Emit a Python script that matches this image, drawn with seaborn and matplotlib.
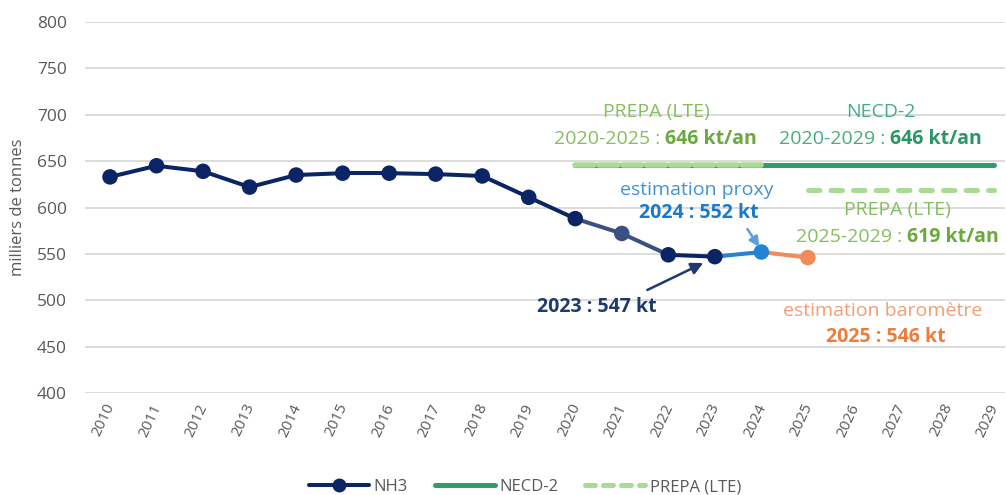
import matplotlib
matplotlib.use("Agg")
import matplotlib.pyplot as plt
import matplotlib.transforms as mtransforms
import seaborn as sns
import pandas as pd
import numpy as np
from matplotlib.lines import Line2D

# ---------------- data ----------------
years = list(range(2010, 2030))
nh3_years = list(range(2010, 2026))
nh3_values = [633, 645, 639, 622, 635, 637, 637, 636, 634, 611, 588, 572, 549, 547, 552, 546]
necd2_years = [2020, 2029]
necd2_values = [646, 646]
prepa1_years = [2020, 2024]
prepa1_values = [646, 646]
prepa2_years = [2025, 2029]
prepa2_values = [619, 619]
y_ticks = [400, 450, 500, 550, 600, 650, 700, 750, 800]

# ---------------- style ----------------
sns.set_theme(style="white")
plt.rcParams["font.family"] = ["Open Sans", "DejaVu Sans"]

NAVY = "#0a2466"
NAVY_LIGHT = "#3a5085"
BLUE = "#2483d2"
ORANGE = "#ef8c59"
NECD_GREEN = "#2e9e6b"
PREPA_GREEN = "#a8dc92"
GREY = "#595959"

W, H = 1006, 495
fig = plt.figure(figsize=(W / 100, H / 100), dpi=100)
ax = fig.add_axes([85 / W, (H - 393) / H, 920 / W, (393 - 22) / H])

# x: year, px mapping 2010 -> 110, 46.5 px per year
ax.set_xlim(2010 - 25 / 46.5, 2029 + 11 / 46.5)
ax.set_ylim(400, 800)

ax.set_yticks(y_ticks)
ax.yaxis.grid(True, color="#d9d9d9", linewidth=1.3)
ax.set_axisbelow(True)
for s in ax.spines.values():
    s.set_visible(False)

# target lines
ax.plot(necd2_years, necd2_values, color=NECD_GREEN, lw=3.6, solid_capstyle="round", zorder=2)
ax.plot(prepa1_years, prepa1_values, color=PREPA_GREEN, lw=4.0, dashes=(3.4, 0.9),
        dash_capstyle="round", zorder=3)
ax.plot(prepa2_years, prepa2_values, color=PREPA_GREEN, lw=3.6, dashes=(2.3, 2.2),
        dash_capstyle="round", zorder=3)

# NH3 series drawn by segments with seaborn
df = pd.DataFrame({"year": nh3_years, "value": nh3_values})
seg_colors = []
for i in range(len(nh3_years) - 1):
    y0 = nh3_years[i]
    if y0 in (2020, 2021):
        c = NAVY_LIGHT
    elif y0 == 2023:
        c = BLUE
    elif y0 == 2024:
        c = ORANGE
    else:
        c = NAVY
    seg_colors.append(c)

for i, c in enumerate(seg_colors):
    sub = df.iloc[i:i + 2]
    sns.lineplot(data=sub, x="year", y="value", color=c, lw=2.9, ax=ax, zorder=4,
                 legend=False)

pt_colors = []
for y in nh3_years:
    if y == 2021:
        pt_colors.append(NAVY_LIGHT)
    elif y == 2024:
        pt_colors.append(BLUE)
    elif y == 2025:
        pt_colors.append(ORANGE)
    else:
        pt_colors.append(NAVY)
sns.scatterplot(data=df, x="year", y="value", hue="year",
                palette=dict(zip(nh3_years, pt_colors)), s=125, edgecolor="none",
                ax=ax, zorder=5, legend=False)

ax.set_xlabel("")
ax.set_ylabel("milliers de tonnes", color=GREY, fontsize=12)
ax.yaxis.set_label_coords((26 - 85) / 920, 0.5)
ax.set_xticks(years)
ax.set_xticklabels([str(y) for y in years], rotation=65, ha="right", va="top",
                   rotation_mode="anchor", color=GREY, fontsize=11)
ax.tick_params(axis="x", length=0, pad=6)
ax.tick_params(axis="y", length=0, pad=13, labelsize=12.5, labelcolor=GREY)
shift = mtransforms.ScaledTranslation(-4 / 72, 0, fig.dpi_scale_trans)
for lbl in ax.get_xticklabels():
    lbl.set_transform(lbl.get_transform() + shift)


def px2data(px, py):
    return 2010 + (px - 110) / 46.5, 800 - (py - 22) / 0.9275


texts_two = []
FS = 14


def two_part(cx, cy, reg, bold, c_reg, c_bold, size=FS):
    x, y = px2data(cx, cy)
    t1 = ax.annotate(reg, (x, y), xycoords="data", textcoords="offset points",
                     xytext=(0, 0), ha="left", va="center", color=c_reg, fontsize=size)
    t2 = ax.annotate(bold, (x, y), xycoords="data", textcoords="offset points",
                     xytext=(0, 0), ha="left", va="center", color=c_bold, fontsize=size,
                     fontweight="bold")
    texts_two.append((t1, t2))


def single(cx, cy, s, c, bold=False, size=FS):
    x, y = px2data(cx, cy)
    ax.text(x, y, s, ha="center", va="center", color=c, fontsize=size,
            fontweight="bold" if bold else "normal")


# annotations
single(656, 112, "PREPA (LTE)", "#86bd5e")
two_part(655, 139, "2020-2025 : ", "646 kt/an", "#86bd5e", "#6aa93c")
single(880, 112, "NECD-2", "#45ad80")
two_part(880, 139, "2020-2029 : ", "646 kt/an", "#45ad80", "#2a9565")
single(696, 190, "estimation proxy", "#3f93d9")
single(698, 213, "2024 : 552 kt", "#1b79c9", bold=True)
single(897, 210, "PREPA (LTE)", "#86bd5e")
two_part(897, 237, "2025-2029 : ", "619 kt/an", "#86bd5e", "#6aa93c")
single(597, 307, "2023 : 547 kt", "#1f3a6e", bold=True)
single(882, 311, "estimation baromètre", "#f29d76")
single(885, 337, "2025 : 546 kt", "#ee7d3b", bold=True)

# arrows
ax.annotate("", xy=px2data(703, 263), xytext=px2data(647, 290),
            arrowprops=dict(arrowstyle="-|>,head_length=0.6,head_width=0.3",
                            color="#1f3a6e", lw=1.8, shrinkA=0, shrinkB=0), zorder=6)
ax.annotate("", xy=px2data(759, 247), xytext=px2data(747, 229),
            arrowprops=dict(arrowstyle="-|>,head_length=0.5,head_width=0.25",
                            color="#5a9fdc", lw=1.8, shrinkA=0, shrinkB=0), zorder=6)

# position two-part texts centered
fig.canvas.draw()
r = fig.canvas.get_renderer()
for t1, t2 in texts_two:
    w1 = t1.get_window_extent(r).width
    w2 = t2.get_window_extent(r).width
    tot = w1 + w2
    k = 72 / fig.dpi
    t1.set_position((-tot / 2 * k, 0))
    t2.set_position(((-tot / 2 + w1) * k, 0))

# legend
handles = [
    Line2D([], [], color=NAVY, lw=2.9, marker="o", markersize=9),
    Line2D([], [], color=NECD_GREEN, lw=3.6, solid_capstyle="round"),
    Line2D([], [], color=PREPA_GREEN, lw=3.6, dashes=(2.0, 1.6), dash_capstyle="round"),
]
leg = fig.legend(handles, ["NH3", "NECD-2", "PREPA (LTE)"], loc="center",
                 bbox_to_anchor=(525 / W, 1 - 487 / H), ncol=3, frameon=False,
                 fontsize=12, handlelength=3.6, handletextpad=0.3, columnspacing=1.6,
                 labelcolor=GREY)

fig.savefig("out.png", dpi=100)
